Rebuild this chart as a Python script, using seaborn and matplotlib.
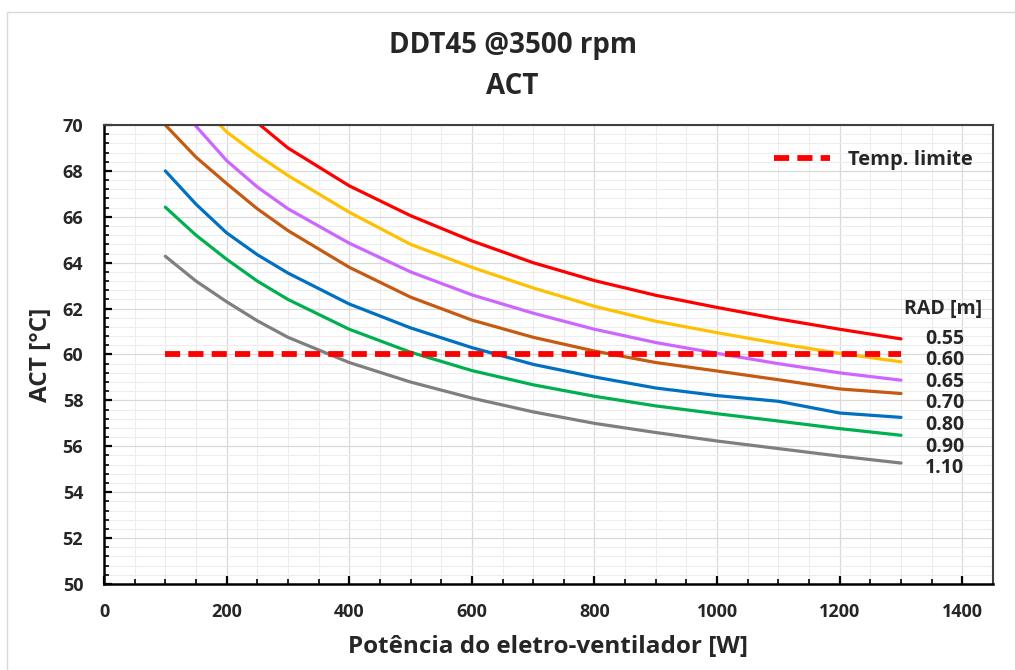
import matplotlib
matplotlib.use("Agg")
import matplotlib.pyplot as plt
import matplotlib.patches as mpatches
from matplotlib.ticker import MultipleLocator
import pandas as pd
import seaborn as sns

# Fan power [W]
potencia = [100, 150, 200, 250, 300, 400, 500, 600, 700, 800, 900, 1000, 1100, 1200, 1300]

# ACT [°C] for each radiator size RAD [m]
rad_labels = ["0.55", "0.60", "0.65", "0.70", "0.80", "0.90", "1.10"]
act_055 = [75.5, 73.4, 71.6, 70.1, 69.0, 67.35, 66.05, 64.95, 64.0, 63.22, 62.58, 62.05, 61.55, 61.1, 60.68]
act_060 = [72.8, 71.1, 69.7, 68.7, 67.8, 66.2, 64.8, 63.8, 62.9, 62.1, 61.45, 60.95, 60.48, 60.05, 59.68]
act_065 = [71.8, 69.95, 68.45, 67.3, 66.35, 64.85, 63.6, 62.6, 61.8, 61.1, 60.52, 60.05, 59.6, 59.2, 58.88]
act_070 = [70.0, 68.6, 67.45, 66.35, 65.4, 63.8, 62.5, 61.5, 60.75, 60.15, 59.65, 59.28, 58.9, 58.5, 58.3]
act_080 = [68.0, 66.55, 65.3, 64.35, 63.55, 62.2, 61.16, 60.3, 59.57, 59.02, 58.54, 58.21, 57.96, 57.45, 57.26]
act_090 = [66.42, 65.2, 64.15, 63.2, 62.4, 61.1, 60.1, 59.3, 58.68, 58.18, 57.76, 57.42, 57.1, 56.77, 56.48]
act_110 = [64.28, 63.2, 62.3, 61.47, 60.75, 59.65, 58.8, 58.1, 57.5, 57.0, 56.6, 56.23, 55.9, 55.57, 55.27]

# Temperature limit
temp_limite = 60.0
limite_x = [100, 1300]

cores = ["#FF0000", "#FFC000", "#CC66FF", "#C55A11", "#0070C0", "#00B050", "#7F7F7F"]

series = [act_055, act_060, act_065, act_070, act_080, act_090, act_110]
df = pd.concat(
    [pd.DataFrame({"Potencia": potencia, "ACT": vals, "RAD": lab})
     for lab, vals in zip(rad_labels, series)],
    ignore_index=True,
)
df_lim = pd.DataFrame({"Potencia": limite_x, "ACT": [temp_limite] * len(limite_x)})

sns.set_theme(style="white")
plt.rcParams["font.family"] = ["Open Sans", "DejaVu Sans"]
plt.rcParams["font.weight"] = "bold"

fig = plt.figure(figsize=(10.15, 6.7), dpi=100)
ax = fig.add_axes([104 / 1015, 1 - 584 / 670, (993 - 104) / 1015, (584 - 125) / 670])

# light chart-area border
fig.patches.append(mpatches.Rectangle((7 / 1015, -0.1), 1.2, 1 - 12 / 670 + 0.1,
                                      transform=fig.transFigure, fill=False,
                                      edgecolor="#D9D9D9", linewidth=1.0, zorder=0))

sns.lineplot(data=df, x="Potencia", y="ACT", hue="RAD", hue_order=rad_labels,
             palette=cores, linewidth=2.3, legend=False, ax=ax, sort=False)

sns.lineplot(data=df_lim, x="Potencia", y="ACT", color="#FF0000", linewidth=4.2,
             ax=ax, label="Temp. limite")
lim_line = ax.get_lines()[-1]
lim_line.set_dashes((2.6, 1.4))
lim_line.set_dash_capstyle("butt")

ax.set_xlim(0, 1450)
ax.set_ylim(50, 70)
ax.xaxis.set_major_locator(MultipleLocator(200))
ax.xaxis.set_minor_locator(MultipleLocator(50))
ax.yaxis.set_major_locator(MultipleLocator(2))
ax.yaxis.set_minor_locator(MultipleLocator(0.4))

ax.grid(which="major", color="#D9D9D9", linewidth=0.9)
ax.grid(which="minor", color="#EDEDED", linewidth=0.8)
ax.set_axisbelow(True)

for side in ["left", "bottom"]:
    ax.spines[side].set_color("#000000")
    ax.spines[side].set_linewidth(1.8)
for side in ["top", "right"]:
    ax.spines[side].set_color("#404040")
    ax.spines[side].set_linewidth(1.5)

ax.tick_params(which="major", direction="in", length=6, width=1.6, color="#000000",
               labelsize=13, left=True, bottom=True, top=False, right=False)
ax.tick_params(which="minor", direction="in", length=3.5, width=1.2, color="#000000",
               left=True, bottom=True, top=False, right=False)
for lab in ax.get_xticklabels() + ax.get_yticklabels():
    lab.set_fontweight("bold")
ax.tick_params(axis="y", pad=15)
ax.tick_params(axis="x", pad=14)

ax.set_xlabel("Potência do eletro-ventilador [W]", fontsize=17.5, fontweight="bold", labelpad=10)
ax.set_ylabel("ACT [°C]", fontsize=17.5, fontweight="bold", labelpad=7)

fig.text(0.505, 1 - 46 / 670, "DDT45 @3500 rpm", ha="center", va="center",
         fontsize=20, fontweight="bold")
fig.text(0.505, 1 - 86 / 670, "ACT", ha="center", va="center",
         fontsize=20, fontweight="bold")

ax.legend(loc="center right", bbox_to_anchor=(0.998, 0.924), frameon=False,
          handlelength=2.8, handletextpad=0.9,
          prop={"weight": "bold", "size": 14.5})

# radiator size labels beside the curve ends
ax.text(1368, 61.97, "RAD [m]", ha="center", va="center", fontsize=14, fontweight="bold")
for i, lab in enumerate(rad_labels):
    ax.text(1371, 60.69 - i * 0.94, lab, ha="center", va="center",
            fontsize=14, fontweight="bold")

fig.savefig("out.png", dpi=100, facecolor="white")
